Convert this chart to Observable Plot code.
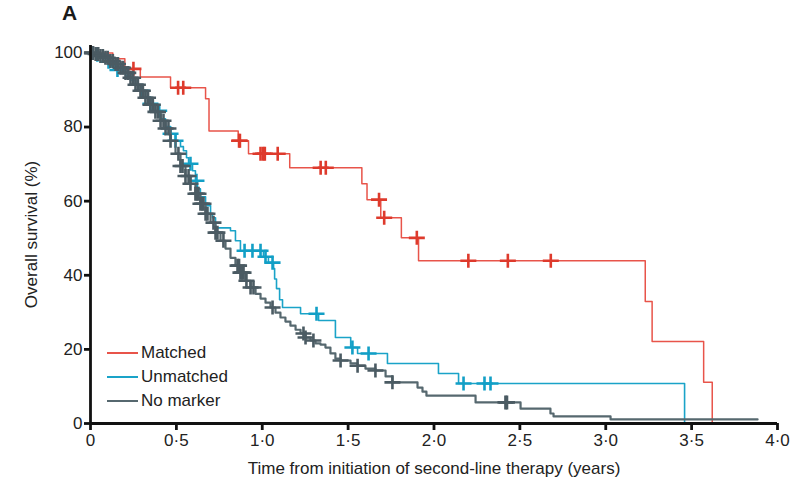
<!DOCTYPE html>
<html><head><meta charset="utf-8">
<script src="https://cdn.jsdelivr.net/npm/d3@7"></script>
<script src="https://cdn.jsdelivr.net/npm/@observablehq/plot@0.6"></script>
<style>
body{margin:0;background:#fff;font-family:"Liberation Sans",Arial,sans-serif;}
#wrap{position:relative;width:806px;height:485px;}
#title{position:absolute;left:62px;top:1px;font-weight:bold;font-size:21px;color:#1a1a1a;}
#legend{position:absolute;left:107px;top:341px;font-size:17px;color:#222;}
.item{display:flex;align-items:center;height:24px;}
.sw{width:31px;height:0;border-top:2.5px solid;margin-right:3px;}
#chart{position:absolute;left:0;top:0;}
</style></head><body>
<div id="wrap"><div id="chart"></div><div id="title">A</div><div id="legend"></div></div>
<script>
const groups = ["Matched", "Unmatched", "No marker"];
const colors = ["#e8544a", "#1aa3c8", "#56686f"];
const markColors = ["#de3a2c", "#129fc6", "#4b5b63"];
const xTicks = [0, 0.5, 1, 1.5, 2, 2.5, 3, 3.5, 4];
const yTicks = [0, 20, 40, 60, 80, 100];

const matchedTime = [0, 0.13, 0.20, 0.29, 0.466, 0.67, 0.69, 0.86, 0.92, 1.16, 1.58, 1.61, 1.69, 1.81, 1.91, 3.23, 3.27, 3.57, 3.62];
const matchedSurv = [100, 98.4, 95.7, 93.5, 90.6, 87.6, 78.9, 76.3, 72.8, 69.0, 64.7, 60.4, 55.5, 50.1, 43.9, 32.9, 22.1, 11.1, 0];
const matchedCensor = [0.25, 0.51, 0.54, 0.865, 0.87, 0.99, 1.005, 1.015, 1.09, 1.34, 1.37, 1.68, 1.71, 1.90, 2.20, 2.43, 2.68];

const unmatchedTime = [0, 0.029, 0.058, 0.087, 0.116, 0.146, 0.175, 0.204, 0.233, 0.262, 0.291, 0.320, 0.349, 0.378, 0.408, 0.437, 0.466, 0.495, 0.524, 0.541, 0.559, 0.571, 0.594, 0.611, 0.623, 0.640, 0.670, 0.699, 0.710, 0.728, 0.815, 0.844, 0.873, 1.007, 1.036, 1.066, 1.072, 1.083, 1.101, 1.118, 1.223, 1.328, 1.426, 1.515, 1.555, 1.729, 2.026, 2.143, 3.459];
const unmatchedSurv = [100, 99.5, 98.7, 97.6, 96.5, 95.4, 94.6, 93.8, 92.7, 91.4, 89.8, 88.1, 86.3, 84.4, 82.2, 80.1, 78.2, 76.3, 74.7, 73.6, 71.7, 70.1, 68.2, 65.5, 63.3, 61.2, 58.8, 56.6, 55.5, 52.8, 52.0, 49.3, 46.6, 45.0, 43.4, 41.8, 39.0, 36.4, 33.4, 31.3, 29.6, 27.8, 23.2, 20.5, 18.9, 16.2, 13.5, 10.8, 0];
const unmatchedCensor = [0.04, 0.105, 0.157, 0.30, 0.349, 0.40, 0.466, 0.495, 0.582, 0.617, 0.897, 0.943, 0.99, 1.019, 1.06, 1.316, 1.525, 1.619, 2.172, 2.294, 2.329];

const noMarkerTime = [0, 0.029, 0.058, 0.087, 0.116, 0.146, 0.175, 0.204, 0.233, 0.262, 0.291, 0.320, 0.349, 0.378, 0.408, 0.437, 0.466, 0.495, 0.524, 0.553, 0.582, 0.611, 0.640, 0.670, 0.699, 0.728, 0.757, 0.786, 0.815, 0.844, 0.873, 0.902, 0.932, 0.961, 0.990, 1.019, 1.048, 1.077, 1.106, 1.135, 1.164, 1.194, 1.223, 1.252, 1.281, 1.310, 1.339, 1.368, 1.397, 1.426, 1.456, 1.514, 1.555, 1.601, 1.659, 1.718, 1.758, 1.904, 1.933, 1.956, 2.242, 2.504, 2.678, 2.696, 3.028, 3.884];
const noMarkerSurv = [100, 99.7, 99.2, 98.7, 97.8, 97.0, 96.0, 94.6, 93.3, 91.4, 89.8, 87.9, 86.0, 84.1, 81.7, 79.6, 76.3, 72.8, 69.5, 66.8, 64.7, 62.0, 59.3, 56.6, 54.2, 51.5, 49.3, 47.2, 44.7, 42.6, 40.7, 38.5, 36.7, 35.0, 33.7, 32.6, 31.3, 29.9, 28.6, 27.5, 26.4, 25.3, 24.3, 23.2, 22.4, 21.6, 21.3, 20.5, 18.9, 17.5, 17.0, 16.2, 15.6, 14.8, 14.3, 12.7, 11.1, 9.7, 8.6, 7.5, 5.7, 4.0, 2.7, 1.9, 1.1, 1.1];
const noMarkerCensor = [0.008, 0.015, 0.03, 0.045, 0.058, 0.072, 0.087, 0.1, 0.116, 0.13, 0.146, 0.16, 0.175, 0.19, 0.204, 0.22, 0.233, 0.248, 0.262, 0.276, 0.291, 0.305, 0.320, 0.335, 0.349, 0.363, 0.378, 0.393, 0.408, 0.425, 0.437, 0.454, 0.466, 0.512, 0.524, 0.536, 0.553, 0.571, 0.582, 0.611, 0.620, 0.629, 0.640, 0.650, 0.658, 0.670, 0.681, 0.716, 0.728, 0.739, 0.774, 0.856, 0.865, 0.873, 0.882, 0.891, 0.908, 0.932, 0.949, 1.060, 1.240, 1.252, 1.298, 1.456, 1.555, 1.659, 1.758, 2.416, 2.425];

const series = [
  {name: groups[0], time: matchedTime, surv: matchedSurv, censor: matchedCensor, w: 1.5},
  {name: groups[1], time: unmatchedTime, surv: unmatchedSurv, censor: unmatchedCensor, w: 1.6},
  {name: groups[2], time: noMarkerTime, surv: noMarkerSurv, censor: noMarkerCensor, w: 2.2}
];

function survAt(s, t) {
  let v = s.surv[0];
  for (let i = 0; i < s.time.length; i++) if (s.time[i] <= t) v = s.surv[i];
  return v;
}

const censorSym = {draw(ctx) { ctx.moveTo(-8, 0); ctx.lineTo(8, 0); ctx.moveTo(0, -7); ctx.lineTo(0, 7); }};
const fmt = d => d === 0 ? "0" : d.toFixed(1).replace(".", "\u00b7");

const marks = [];
series.forEach((s, i) => {
  const pts = s.time.map((t, j) => ({t, s: s.surv[j]}));
  marks.push(Plot.line(pts, {x: "t", y: "s", curve: "step-after", stroke: colors[i], strokeWidth: s.w}));
  const cens = s.censor.map(t => ({t, s: survAt(s, t)}));
  marks.push(Plot.dot(cens, {x: "t", y: "s", symbol: censorSym, stroke: markColors[i], strokeWidth: 2.6, fill: "none"}));
});

const chart = Plot.plot({
  width: 806, height: 485,
  marginLeft: 90, marginRight: 29, marginTop: 45, marginBottom: 62,
  x: {domain: [0, 4]},
  y: {domain: [0, 102]},
  style: {fontFamily: "'Liberation Sans', Arial, sans-serif", background: "transparent", color: "#222"},
  marks: [
    Plot.axisX({ticks: xTicks, tickFormat: fmt, tickSize: 7, tickPadding: 3, strokeWidth: 2.8, stroke: "#111", fontSize: 17,
      label: "Time from initiation of second-line therapy (years)", labelAnchor: "center", labelArrow: "none", labelOffset: 50}),
    Plot.axisY({ticks: yTicks, tickSize: 6, tickPadding: 2, strokeWidth: 2.8, stroke: "#111", fontSize: 17,
      label: "Overall survival (%)", labelAnchor: "center", labelArrow: "none", labelOffset: 66}),
    ...marks,
    Plot.ruleX([0], {stroke: "#111", strokeWidth: 2.8}),
    Plot.ruleY([0], {stroke: "#111", strokeWidth: 2.8})
  ]
});
document.getElementById("chart").appendChild(chart);

const leg = document.getElementById("legend");
groups.forEach((g, i) => {
  const it = document.createElement("div"); it.className = "item";
  const sw = document.createElement("div"); sw.className = "sw"; sw.style.borderTopColor = colors[i];
  const tx = document.createElement("span"); tx.textContent = g;
  it.appendChild(sw); it.appendChild(tx); leg.appendChild(it);
});
</script>
</body></html>
